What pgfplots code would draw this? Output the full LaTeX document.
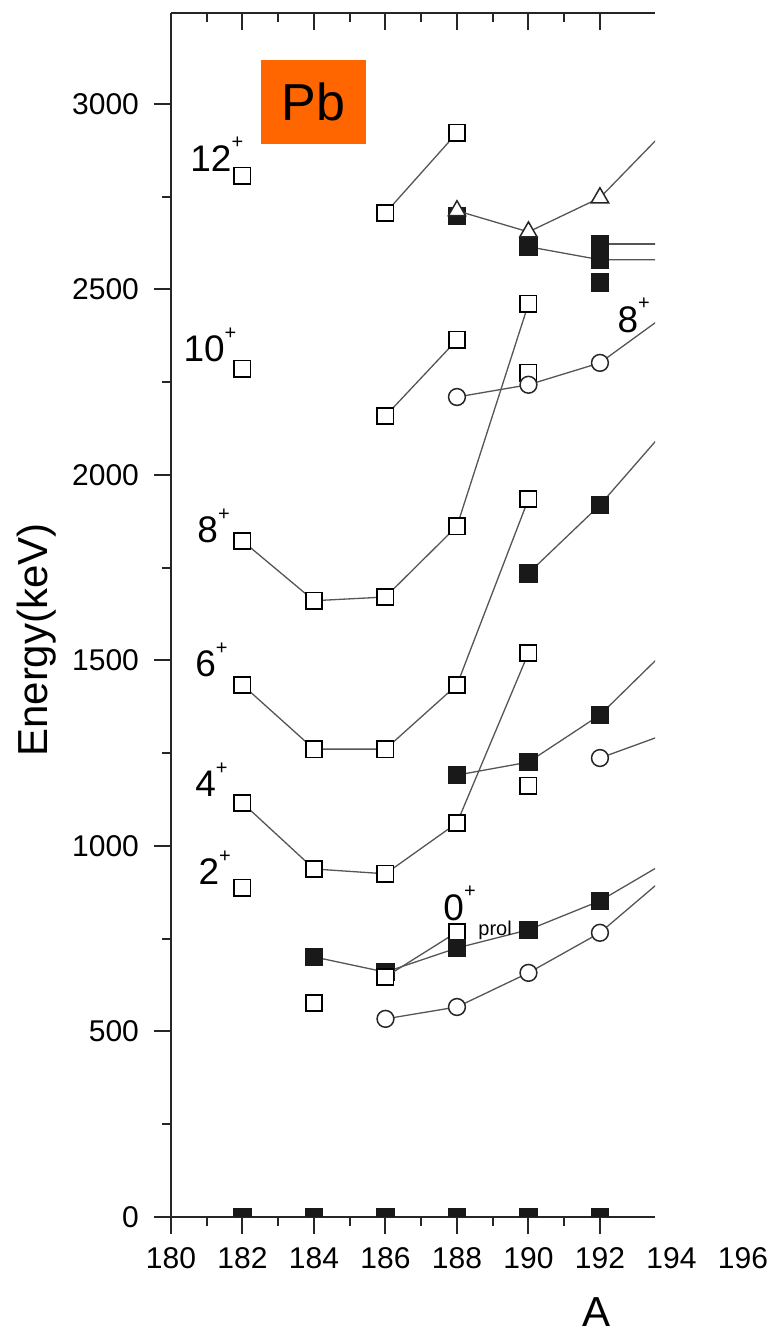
\documentclass[border=0pt]{standalone}
\usepackage{fontspec}
\setmainfont{Liberation Sans}
\usepackage{pgfplots}
\pgfplotsset{compat=1.18}
\definecolor{pborange}{RGB}{255,102,0}
\definecolor{lnc}{RGB}{85,85,85}
\newcommand\lev[1]{\fontsize{18.5}{18.5}\selectfont #1\raisebox{0.6em}{\fontsize{10}{10}\selectfont +}}
\pgfplotsset{
  ln/.style={draw=lnc, line width=0.65pt},
  opensq/.style={mark=square*, mark size=4.1pt, mark options={solid, fill=white, draw=black, line width=0.8pt}},
  fillsq/.style={mark=square*, mark size=4.4pt, mark options={solid, fill=black!90, draw=black!90, line width=0.5pt}},
  opencirc/.style={mark=*, mark size=4.2pt, mark options={solid, fill=white, draw=black!85, line width=0.75pt}},
  opentri/.style={mark=triangle*, mark size=5pt, mark options={solid, fill=white, draw=black!85, line width=0.75pt}},
  frame/.style={at={(85.5pt,58.5pt)}, anchor=south west, scale only axis,
    width=242pt, height=602pt, xmin=180, xmax=193.54, ymin=0, ymax=3245,
    axis line style={-, line width=1pt, black!85},
    tick style={line width=1pt, black!85},
    major tick length=8.5pt, minor tick length=4.5pt,
    xtick={180,182,...,192}, minor x tick num=1},
}
\begin{document}
\begin{tikzpicture}
\useasboundingbox (0,0) rectangle (385.5pt,667pt);
\begin{axis}[frame,
  axis x line*=bottom, axis y line*=left, tick align=outside,
  ytick={0,500,...,3000}, minor y tick num=1,
  /pgf/number format/assume math mode=true,
  /pgf/number format/1000 sep={},
  ticklabel style={font=\fontsize{15}{15}\selectfont},
  x tick label style={yshift=-3pt},
  y tick label style={xshift=-4pt},
  clip marker paths=true,
]
% ground states
\addplot[only marks, fillsq] coordinates {(182,0)(184,0)(186,0)(188,0)(190,0)(192,0)};
% yrast-like open-square sequences
\addplot[ln, opensq] coordinates {(182,1116)(184,938)(186,925)(188,1062)(190,1520)};
\addplot[ln, opensq] coordinates {(182,1434)(184,1261)(186,1261)(188,1434)(190,1935)};
\addplot[ln, opensq] coordinates {(182,1822)(184,1661)(186,1671)(188,1862)(190,2461)};
\addplot[ln, opensq] coordinates {(186,2159)(188,2364)};
\addplot[ln, opensq] coordinates {(186,2706)(188,2922)};
\addplot[only marks, opensq] coordinates {(182,887)(182,2286)(182,2806)(184,577)(190,1162)(190,2275)};
% filled-square sequences
\addplot[ln, fillsq] coordinates {(184,701)(186,660)(188,725)(190,774)(192,852)(194,965)};
\addplot[ln, opensq] coordinates {(186,647)(188,768)};
\addplot[only marks, fillsq] coordinates {(188,725)};
\addplot[ln, fillsq] coordinates {(188,1191)(190,1226)(192,1353)(194,1542)};
\addplot[ln, fillsq] coordinates {(190,1735)(192,1919)(194,2140)};
\addplot[ln, fillsq] coordinates {(190,2615)(192,2580)(194,2580)};
\addplot[ln, fillsq] coordinates {(192,2622)(194,2622)};
\addplot[only marks, fillsq] coordinates {(192,2518)(188,2698)};
% circles
\addplot[ln, opencirc] coordinates {(186,534)(188,566)(190,658)(192,766)(194,930)};
\addplot[ln, opencirc] coordinates {(192,1237)(194,1307)};
\addplot[ln, opencirc] coordinates {(188,2210)(190,2243)(192,2302)(194,2442)};
% triangles
\addplot[ln, opentri] coordinates {(188,2712)(190,2655)(192,2747)(194,2945)};
% level labels
\node[anchor=base west, inner sep=0] at (axis cs:180.53,2819) {\lev{12}};
\node[anchor=base west, inner sep=0] at (axis cs:180.34,2305) {\lev{10}};
\node[anchor=base west, inner sep=0] at (axis cs:180.73,1817) {\lev{8}};
\node[anchor=base west, inner sep=0] at (axis cs:180.67,1456) {\lev{6}};
\node[anchor=base west, inner sep=0] at (axis cs:180.67,1132) {\lev{4}};
\node[anchor=base west, inner sep=0] at (axis cs:180.76,895) {\lev{2}};
\node[anchor=base west, inner sep=0] at (axis cs:192.48,2385) {\lev{8}};
\node[anchor=base west, inner sep=0] at (axis cs:187.61,800) {\lev{0}};
\node[anchor=base west, inner sep=0, font=\fontsize{10}{10}\selectfont] at (axis cs:188.59,760) {prol};
\end{axis}
\begin{axis}[frame,
  axis x line*=top, axis y line=none, tick align=inside,
  xticklabels={}, ytick=\empty, clip=false,
]
\node[anchor=north, font=\fontsize{15}{15}\selectfont] at ([yshift=-11.5pt]axis cs:194,0) {194};
\node[anchor=north, font=\fontsize{15}{15}\selectfont] at ([yshift=-11.5pt]axis cs:196,0) {196};
\end{axis}
\node[fill=pborange, minimum width=52.5pt, minimum height=42pt, inner sep=0,
  font=\fontsize{26}{26}\selectfont] at (156.75pt,616pt) {Pb};
\node[inner sep=0, font=\fontsize{21}{21}\selectfont] at (298.5pt,11pt) {A};
\node[inner sep=0, rotate=90, font=\fontsize{21}{21}\selectfont] at (18.5pt,347pt) {Energy(keV)};
\end{tikzpicture}
\end{document}
